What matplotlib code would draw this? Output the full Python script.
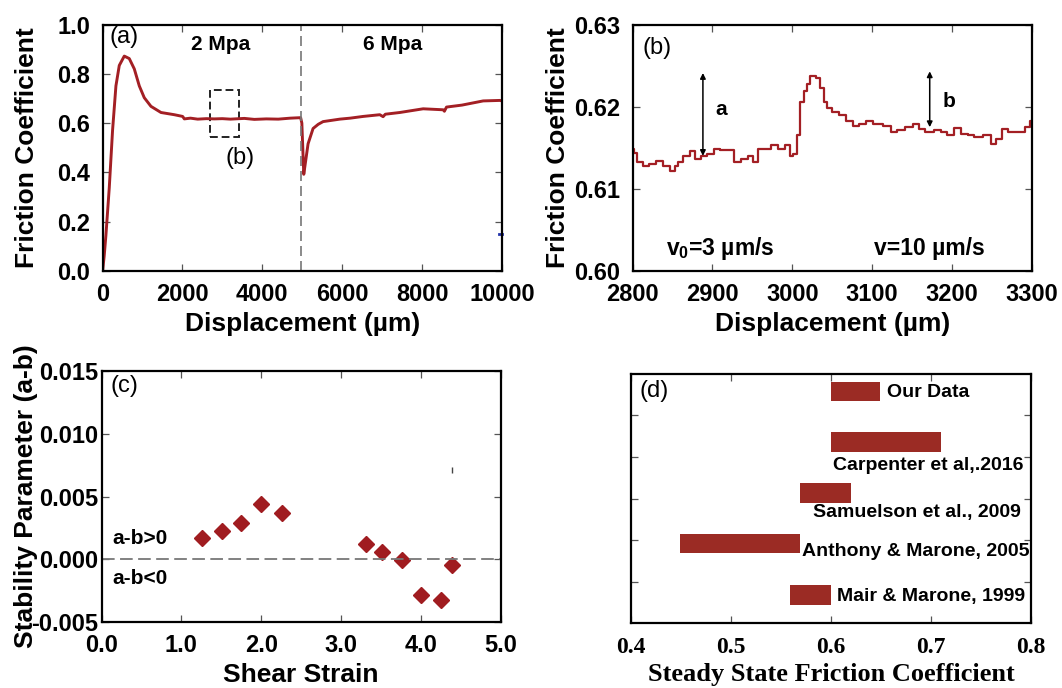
import matplotlib
matplotlib.use('Agg')
import matplotlib.pyplot as plt
from matplotlib.patches import Rectangle

plt.rcParams['font.family'] = ['Liberation Sans', 'DejaVu Sans']
plt.rcParams['font.weight'] = 'bold'
plt.rcParams['axes.labelweight'] = 'bold'
plt.rcParams['axes.linewidth'] = 1.6

# (a) friction coefficient vs displacement
disp_a = [0, 40, 83, 167, 250, 334, 418, 543, 668, 794, 919, 1044, 1211, 1462,
          1796, 2005, 2047, 2200, 2381, 2600, 2799, 3000, 3200, 3551, 3800, 4100,
          4400, 4700, 4960, 4990, 5038, 5080, 5146, 5271, 5400, 5522, 5940, 6200,
          6524, 6942, 7025, 7080, 7444, 8028, 8529, 8560, 8613, 9000, 9531, 9950, 10000]
fc_a = [0, 0.06, 0.144, 0.337, 0.571, 0.751, 0.834, 0.872, 0.862, 0.82, 0.751, 0.703,
        0.668, 0.643, 0.634, 0.627, 0.617, 0.62, 0.616, 0.618, 0.617, 0.618, 0.616,
        0.619, 0.615, 0.617, 0.616, 0.62, 0.622, 0.6, 0.392, 0.44, 0.516, 0.578,
        0.595, 0.606, 0.616, 0.62, 0.627, 0.634, 0.626, 0.636, 0.643, 0.658, 0.654,
        0.648, 0.665, 0.673, 0.69, 0.692, 0.69]

# (b) velocity step, 3 -> 10 um/s
disp_b = [2800, 2804, 2808, 2817, 2825, 2834, 2842, 2851, 2855, 2859, 2868, 2876,
          2881, 2889, 2897, 2906, 2914, 2923, 2931, 2940, 2948, 2953, 2961, 2969,
          2978, 2986, 2995, 2999, 3003, 3008, 3012, 3016, 3020, 3025, 3033, 3037,
          3042, 3046, 3054, 3063, 3071, 3080, 3088, 3097, 3105, 3122, 3126, 3135,
          3147, 3156, 3160, 3173, 3181, 3190, 3198, 3207, 3215, 3224, 3232, 3245,
          3253, 3258, 3266, 3275, 3287, 3296, 3300]
fc_b = [0.6149, 0.6144, 0.6132, 0.6128, 0.6130, 0.6134, 0.6128, 0.6122, 0.6128,
        0.6132, 0.6140, 0.6146, 0.6136, 0.6140, 0.6142, 0.6149, 0.6147, 0.6147,
        0.6132, 0.6136, 0.6140, 0.6132, 0.6149, 0.6149, 0.6153, 0.6149, 0.6153,
        0.6140, 0.6142, 0.6165, 0.6206, 0.6219, 0.6227, 0.6237, 0.6235, 0.6223,
        0.6206, 0.6198, 0.6194, 0.6190, 0.6182, 0.6177, 0.6179, 0.6182, 0.6179,
        0.6177, 0.6169, 0.6171, 0.6175, 0.6179, 0.6173, 0.6169, 0.6171, 0.6169,
        0.6165, 0.6174, 0.6167, 0.6165, 0.6163, 0.6165, 0.6155, 0.6161, 0.6173,
        0.6169, 0.6169, 0.6175, 0.6182]

# (c) stability parameter
strain = [1.26, 1.51, 1.75, 2.0, 2.26, 3.32, 3.51, 3.76, 4.0, 4.25, 4.39]
a_minus_b = [0.0017, 0.0023, 0.0029, 0.0044, 0.0037, 0.0012, 0.0006, -0.00005,
             -0.0028, -0.0032, -0.00045]

# (d) steady state friction ranges
studies = ['Mair & Marone, 1999', 'Anthony & Marone, 2005', 'Samuelson et al., 2009',
           'Carpenter et al,.2016', 'Our Data']
fc_low = [0.559, 0.449, 0.5695, 0.600, 0.5997]
fc_high = [0.600, 0.5695, 0.6197, 0.710, 0.6495]

red = '#a31f24'
tick_kw = dict(direction='in', top=True, right=True, length=5, width=0.9,
               color='#555555', labelsize=17)

fig = plt.figure(figsize=(10.62, 6.88), dpi=100)
ax1 = fig.add_axes([0.0966, 0.6063, 0.376, 0.358])
ax2 = fig.add_axes([0.5957, 0.6063, 0.376, 0.358])
ax3 = fig.add_axes([0.0957, 0.0953, 0.3756, 0.366])
ax4 = fig.add_axes([0.5944, 0.0939, 0.376, 0.3628])

# ---- (a)
ax1.plot(disp_a, fc_a, color=red, lw=2.1)
ax1.axvline(4980, color='#777777', lw=1.2, ls=(0, (6, 3)))
ax1.add_patch(Rectangle((2700, 0.544), 717, 0.189, fill=False, ec='#222222',
                        lw=1.4, ls=(0, (4, 2))))
ax1.plot([9930, 10000], [0.15, 0.15], color='#2233aa', lw=2, clip_on=False)
ax1.set_xlim(0, 10000)
ax1.set_ylim(0, 1.0)
ax1.set_xticks([0, 2000, 4000, 6000, 8000, 10000])
ax1.set_yticks([0, 0.2, 0.4, 0.6, 0.8, 1.0])
ax1.yaxis.set_major_formatter(plt.FormatStrFormatter('%.1f'))
ax1.tick_params(pad=9, **tick_kw)
ax1.set_xlabel('Displacement (\u00b5m)', fontsize=19, labelpad=4)
ax1.set_ylabel('Friction Coefficient', fontsize=19)
ax1.yaxis.set_label_coords(-0.16, 0.5)
ax1.text(526, 0.95, '(a)', fontsize=17, fontweight='normal', ha='center', va='center')
ax1.text(2950, 0.92, '2 Mpa', fontsize=15, ha='center', va='center')
ax1.text(7270, 0.92, '6 Mpa', fontsize=15, ha='center', va='center')
ax1.text(3450, 0.46, '(b)', fontsize=17, fontweight='normal', ha='center', va='center')

# ---- (b)
ax2.plot(disp_b, fc_b, color=red, lw=1.6, drawstyle='steps-mid')
arr = dict(arrowstyle='<|-|>', color='black', lw=1.1, mutation_scale=8,
           shrinkA=0, shrinkB=0)
ax2.annotate('', xy=(2888, 0.6140), xytext=(2888, 0.6241), arrowprops=arr)
ax2.annotate('', xy=(3172, 0.6175), xytext=(3172, 0.6243), arrowprops=arr)
ax2.text(2904, 0.6196, 'a', fontsize=15, ha='left', va='center')
ax2.text(3188, 0.6206, 'b', fontsize=15, ha='left', va='center')
ax2.text(2830, 0.6272, '(b)', fontsize=17, fontweight='normal', ha='center', va='center')
ax2.text(2910, 0.6027, 'v$_\\mathregular{0}$=3 \u00b5m/s', fontsize=16.5, ha='center', va='center')
ax2.text(3171, 0.6027, 'v=10 \u00b5m/s', fontsize=16.5, ha='center', va='center')
ax2.set_xlim(2800, 3300)
ax2.set_ylim(0.60, 0.63)
ax2.set_xticks([2800, 2900, 3000, 3100, 3200, 3300])
ax2.set_yticks([0.60, 0.61, 0.62, 0.63])
ax2.yaxis.set_major_formatter(plt.FormatStrFormatter('%.2f'))
ax2.tick_params(pad=9, **tick_kw)
ax2.set_xlabel('Displacement (\u00b5m)', fontsize=19, labelpad=4)
ax2.set_ylabel('Friction Coefficient', fontsize=19)
ax2.yaxis.set_label_coords(-0.157, 0.5)

# ---- (c)
ax3.plot(strain, a_minus_b, ls='none', marker='D', ms=8.5, color='#a01c20')
ax3.axhline(0, color='#777777', lw=1.3, ls=(0, (7, 3)))
ax3.plot([4.39], [0.0071], marker='|', ms=4, color='#444444')
ax3.text(0.13, 0.0017, 'a-b>0', fontsize=15, ha='left', va='center')
ax3.text(0.13, -0.0015, 'a-b<0', fontsize=15, ha='left', va='center')
ax3.text(0.28, 0.0138, '(c)', fontsize=17, fontweight='normal', ha='center', va='center')
ax3.set_xlim(0, 5)
ax3.set_ylim(-0.005, 0.015)
ax3.set_xticks([0, 1, 2, 3, 4, 5])
ax3.set_yticks([-0.005, 0, 0.005, 0.010, 0.015])
ax3.xaxis.set_major_formatter(plt.FormatStrFormatter('%.1f'))
ax3.yaxis.set_major_formatter(plt.FormatStrFormatter('%.3f'))
ax3.tick_params(axis='x', pad=8, **tick_kw)
ax3.tick_params(axis='y', pad=2.5, **tick_kw)
ax3.set_xlabel('Shear Strain', fontsize=19, labelpad=5)
ax3.set_ylabel('Stability Parameter (a-b)', fontsize=19)
ax3.yaxis.set_label_coords(-0.16, 0.5)

# ---- (d)
bar_y = [0.68, 1.92, 3.14, 4.36, 5.57]
widths = [h - l for l, h in zip(fc_low, fc_high)]
ax4.barh(bar_y, widths, left=fc_low, height=0.47, color='#9b2b24')
ax4.text(0.656, 5.54, 'Our Data', fontsize=14, ha='left', va='center')
ax4.text(0.793, 3.79, 'Carpenter et al,.2016', fontsize=14, ha='right', va='center')
ax4.text(0.790, 2.66, 'Samuelson et al., 2009', fontsize=14, ha='right', va='center')
ax4.text(0.571, 1.73, 'Anthony & Marone, 2005', fontsize=14, ha='left', va='center')
ax4.text(0.606, 0.65, 'Mair & Marone, 1999', fontsize=14, ha='left', va='center')
ax4.text(0.423, 5.58, '(d)', fontsize=17, fontweight='normal', ha='center', va='center')
ax4.set_xlim(0.4, 0.8)
ax4.set_ylim(0, 6)
ax4.set_xticks([0.4, 0.5, 0.6, 0.7, 0.8])
ax4.set_yticks([1, 2, 3, 4, 5])
ax4.yaxis.set_major_formatter(plt.NullFormatter())
ax4.tick_params(pad=9.5, **tick_kw)
for lab in ax4.get_xticklabels():
    lab.set_family('Liberation Serif')
    lab.set_fontsize(17)
ax4.set_xlabel('Steady State Friction Coefficient', fontsize=19,
               family='Liberation Serif', fontweight='bold', labelpad=4)

fig.savefig('out.png', dpi=100)
